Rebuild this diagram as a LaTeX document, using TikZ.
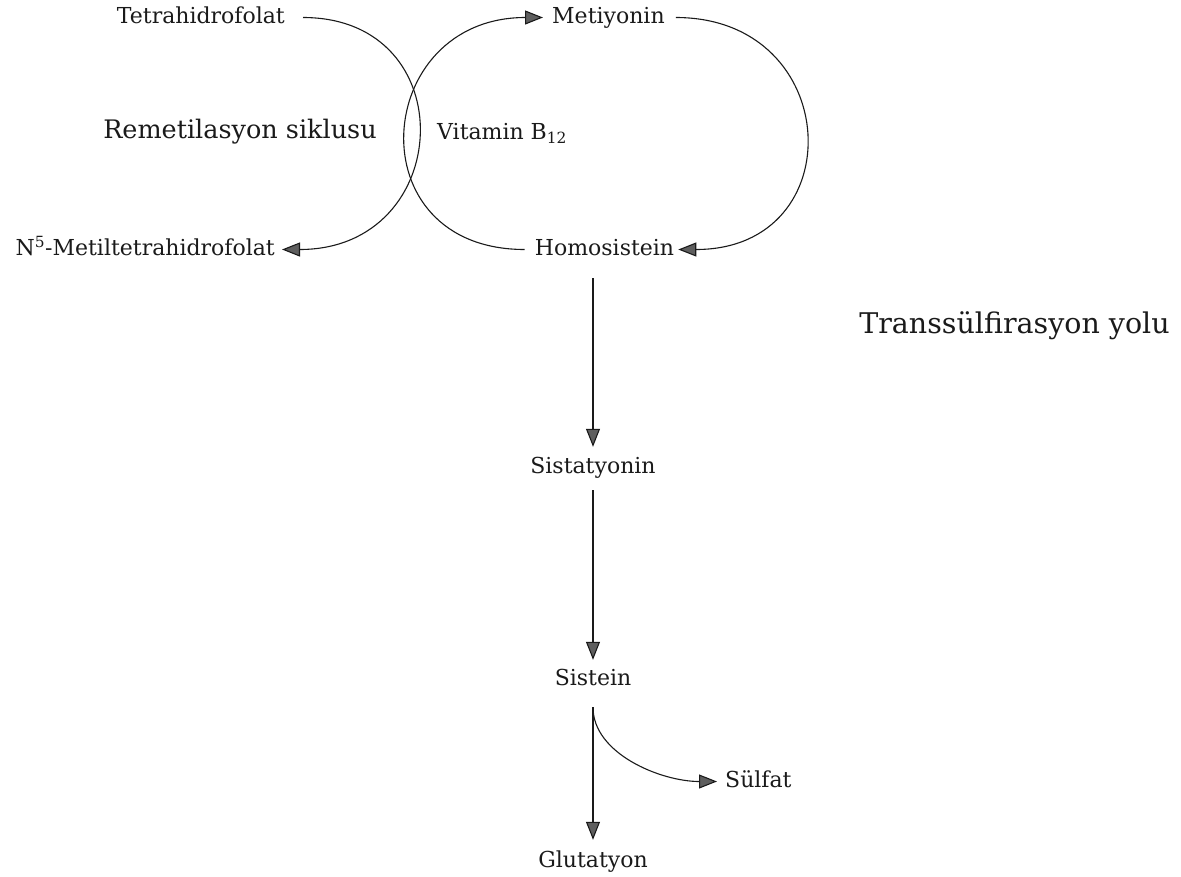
\documentclass[tikz,border=0pt]{standalone}
\usepackage{fontspec}
\setmainfont{DejaVu Serif}
\usepackage{tikz}
\usetikzlibrary{arrows.meta,positioning}
\definecolor{ink}{HTML}{1A1A1A}
\definecolor{tipgray}{HTML}{5E5E5E}
\tikzset{
  metab/.style={
    font=\fontsize{22}{26}\selectfont, text=ink,
    text height=16pt, text depth=5pt, inner sep=2pt
  },
  pathlabel/.style={
    metab, font=\fontsize{#1}{30}\selectfont
  },
  pathlabel/.default=25.5,
  rxn/.style={
    -{Triangle[length=18pt,width=14pt,fill=tipgray]}, draw=ink, line width=1.1pt
  },
}

\begin{document}
\begin{tikzpicture}[x=1pt, y=-1pt]
  \useasboundingbox (0,0) rectangle (1181,876);
  % Remethylation cycle
  \node[metab, anchor=east] (thf) at (287,17.5) {Tetrahidrofolat};
  \node[metab, anchor=west] (met) at (550,17.5) {Metiyonin};
  \node[metab, anchor=east] (mthf) at (277,249.5) {N\textsuperscript{5}-Metiltetrahidrofolat};
  \node[metab] (hcy) at (604.5,249.5) {Homosistein};
  \node[pathlabel] (remet) at (240,132.5) {Remetilasyon siklusu};
  \node[metab, anchor=west] (b12) at (435,133.5) {Vitamin B\textsubscript{12}};
  \draw[rxn, shorten <=16pt, shorten >=5pt] (thf.east) .. controls +(178,0) and +(178,0) .. (mthf.east);
  \draw[rxn, shorten <=8pt, shorten >=7pt] (hcy.west) .. controls +(-178,0) and +(-178,0) .. (met.west);
  \draw[rxn, shorten <=9pt, shorten >=2pt] (met.east) .. controls +(177,0) and +(177,0) .. (hcy.east);
  % Transsulfuration
  \node[pathlabel=28.5] (trans) at (1014.5,327.5) {Transsülfirasyon yolu};
  \node[metab] (cth) at (593,467.5) {Sistatyonin};
  \node[metab] (cys) at (593,679.5) {Sistein};
  \node[metab, anchor=west] (so4) at (723,781.5) {Sülfat};
  \node[metab] (gsh) at (593,861.5) {Glutatyon};
  \draw[rxn, shorten <=16pt, shorten >=8pt] (cth.north |- hcy.south) -- (cth.north);
  \draw[rxn, shorten <=10pt, shorten >=7pt] (cth.south) -- (cys.north);
  \draw[rxn, shorten <=15pt, shorten >=9pt] (cys.south) -- (gsh.north);
  \draw[rxn, shorten <=15pt, shorten >=6pt] (cys.south) to[out=-90,in=180] (so4.west);
\end{tikzpicture}
\end{document}
